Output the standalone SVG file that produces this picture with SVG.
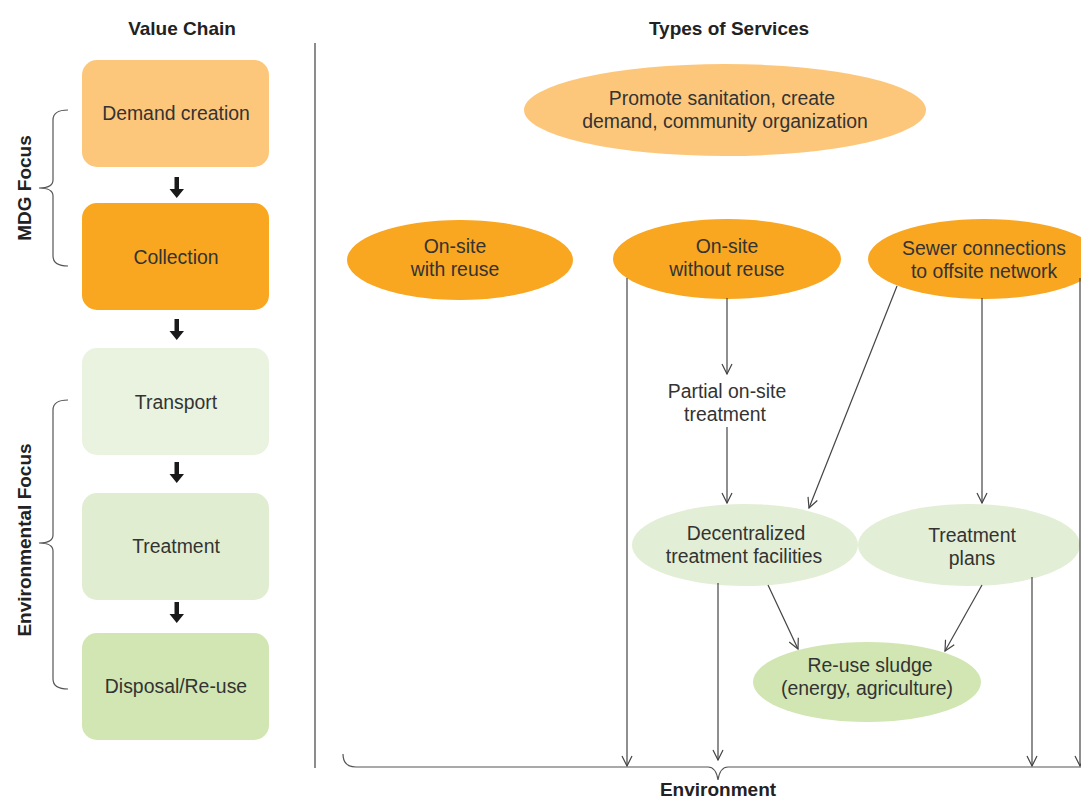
<svg xmlns="http://www.w3.org/2000/svg" width="1081" height="799" viewBox="0 0 1081 799">
  <style>
    text { font-family: "Liberation Sans", Arial, sans-serif; fill: #333; }
    .lbl { font-size: 19.4px; text-anchor: middle; }
    .hdr { font-size: 19px; font-weight: bold; text-anchor: middle; fill: #222; }
    .conn { stroke: #444; stroke-width: 1.2; fill: none; }
    .brace { stroke: #555; stroke-width: 1.2; fill: none; }
    .step { fill: #1a1a1a; }
  </style>
  <defs>
    <marker id="open" markerWidth="12" markerHeight="12" refX="11" refY="6" orient="auto" markerUnits="userSpaceOnUse">
      <path d="M1,1 L11,6 L1,11" fill="none" stroke="#444" stroke-width="1.2"/>
    </marker>
  </defs>

  <rect width="1081" height="799" fill="#ffffff"/>

  <!-- column headers -->
  <text class="hdr" x="182" y="35">Value Chain</text>
  <text class="hdr" x="729" y="35">Types of Services</text>

  <!-- divider between the two columns -->
  <line x1="315" y1="43" x2="315" y2="768" stroke="#666" stroke-width="1.5"/>

  <!-- value chain steps -->
  <g id="demand-creation">
    <rect x="82" y="60" width="187" height="107" rx="15" fill="#FDC77B"/>
    <text class="lbl" x="176" y="120">Demand creation</text>
  </g>
  <g id="collection">
    <rect x="82" y="203" width="187" height="107" rx="15" fill="#F9A620"/>
    <text class="lbl" x="176" y="264">Collection</text>
  </g>
  <g id="transport">
    <rect x="82" y="348" width="187" height="107" rx="15" fill="#EAF3DF"/>
    <text class="lbl" x="176" y="409">Transport</text>
  </g>
  <g id="treatment">
    <rect x="82" y="493" width="187" height="107" rx="15" fill="#E1EDD1"/>
    <text class="lbl" x="176" y="553">Treatment</text>
  </g>
  <g id="disposal">
    <rect x="82" y="633" width="187" height="107" rx="15" fill="#D1E6B2"/>
    <text class="lbl" x="176" y="693">Disposal/Re-use</text>
  </g>

  <!-- step arrows -->
  <g id="step-arrows" class="step">
    <path d="M174.5,177 h4.5 v12 h5 l-7.25,9 l-7.25,-9 h5 z"/>
    <path d="M174.5,319 h4.5 v12 h5 l-7.25,9 l-7.25,-9 h5 z"/>
    <path d="M174.5,462 h4.5 v12 h5 l-7.25,9 l-7.25,-9 h5 z"/>
    <path d="M174.5,602 h4.5 v12 h5 l-7.25,9 l-7.25,-9 h5 z"/>
  </g>

  <!-- focus brackets -->
  <g id="mdg-focus">
    <path class="brace" d="M68,110 Q53,110 53,120 L53,180 Q53,188 39,188 Q53,188 53,196 L53,256 Q53,266 68,266"/>
    <text class="hdr" transform="translate(31,188) rotate(-90)">MDG Focus</text>
  </g>
  <g id="environmental-focus">
    <path class="brace" d="M68,400 Q53,400 53,410 L53,535 Q53,543 39,543 Q53,543 53,551 L53,679 Q53,689 68,689"/>
    <text class="hdr" transform="translate(31,540) rotate(-90)">Environmental Focus</text>
  </g>

  <!-- service types -->
  <g id="promote">
    <ellipse cx="725" cy="110" rx="201" ry="46" fill="#FDC77B"/>
    <text class="lbl" x="722" y="105">Promote sanitation, create</text>
    <text class="lbl" x="725" y="128">demand, community organization</text>
  </g>
  <g id="onsite-reuse">
    <ellipse cx="460" cy="260" rx="113" ry="40" fill="#F9A620"/>
    <text class="lbl" x="455" y="253">On-site</text>
    <text class="lbl" x="455" y="276">with reuse</text>
  </g>
  <g id="onsite-no-reuse">
    <ellipse cx="727" cy="259" rx="114" ry="40" fill="#F9A620"/>
    <text class="lbl" x="727" y="253">On-site</text>
    <text class="lbl" x="727" y="276">without reuse</text>
  </g>
  <g id="sewer">
    <ellipse cx="984" cy="259" rx="116" ry="40" fill="#F9A620"/>
    <text class="lbl" x="984" y="255">Sewer connections</text>
    <text class="lbl" x="984" y="278">to offsite network</text>
  </g>
  <g id="partial-onsite">
    <text class="lbl" x="727" y="398">Partial on-site</text>
    <text class="lbl" x="725" y="421">treatment</text>
  </g>
  <g id="decentralized">
    <ellipse cx="745" cy="545" rx="113" ry="41" fill="#E2EED5"/>
    <text class="lbl" x="746" y="540">Decentralized</text>
    <text class="lbl" x="744" y="563">treatment facilities</text>
  </g>
  <g id="treatment-plans">
    <ellipse cx="969" cy="545" rx="111" ry="41" fill="#E2EED5"/>
    <text class="lbl" x="972" y="542">Treatment</text>
    <text class="lbl" x="972" y="565">plans</text>
  </g>
  <g id="reuse-sludge">
    <ellipse cx="867" cy="682" rx="114" ry="40" fill="#D1E6B2"/>
    <text class="lbl" x="870" y="672">Re-use sludge</text>
    <text class="lbl" x="867" y="695">(energy, agriculture)</text>
  </g>

  <!-- connectors -->
  <g id="connectors" class="conn">
    <line x1="627" y1="278" x2="627" y2="766" marker-end="url(#open)"/>
    <line x1="727" y1="298" x2="727" y2="374" marker-end="url(#open)"/>
    <line x1="727" y1="427" x2="727" y2="503" marker-end="url(#open)"/>
    <line x1="897" y1="286" x2="809" y2="508" marker-end="url(#open)"/>
    <line x1="982" y1="298" x2="982" y2="503" marker-end="url(#open)"/>
    <line x1="1080" y1="278" x2="1080" y2="766" marker-end="url(#open)"/>
    <line x1="718" y1="583" x2="718" y2="760" marker-end="url(#open)"/>
    <line x1="768" y1="585" x2="798" y2="649" marker-end="url(#open)"/>
    <line x1="982" y1="585" x2="945" y2="651" marker-end="url(#open)"/>
    <line x1="1032" y1="577" x2="1032" y2="766" marker-end="url(#open)"/>
  </g>

  <!-- environment brace -->
  <g id="environment">
    <path class="brace" d="M343,754 Q343,767 356,767 L708,767 Q716,767 718,780 Q720,767 728,767 L1081,767"/>
    <text class="hdr" x="718" y="796">Environment</text>
  </g>
</svg>
